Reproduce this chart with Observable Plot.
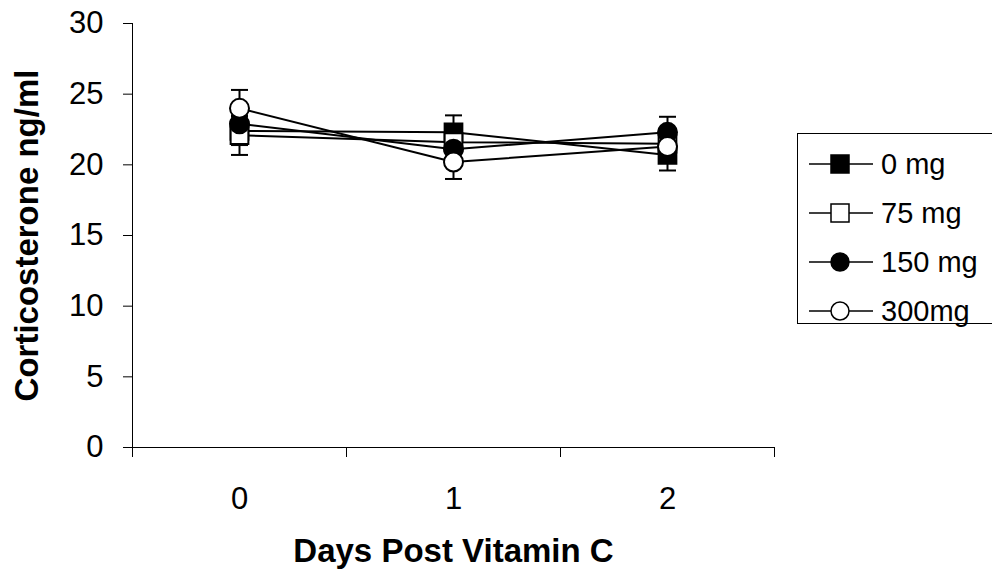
<!DOCTYPE html>
<html>
<head>
<meta charset="utf-8">
<script src="https://cdn.jsdelivr.net/npm/d3@7"></script>
<script src="https://cdn.jsdelivr.net/npm/@observablehq/plot@0.6"></script>
<style>
  html, body { margin: 0; padding: 0; background: #fff; }
  #wrap { position: relative; width: 992px; height: 571px; overflow: hidden; font-family: "Liberation Sans", Arial, sans-serif; }
  #legend { position: absolute; left: 797px; top: 133px; width: 240px; height: 191px; border: 1.5px solid #000; border-right: none; box-sizing: border-box; background: #fff; }
  .lg-item { position: absolute; left: 0; height: 40px; display: flex; align-items: center; }
  .lg-item span { font-size: 29px; color: #000; margin-left: 7px; white-space: nowrap; }
</style>
</head>
<body>
<div id="wrap"></div>
<script>
// ---- data ----
const days = [0, 1, 2];
const xTickLabels = ["0", "1", "2"];
const xBoundaries = [-0.5, 0.5, 1.5, 2.5];
const yTicks = [0, 5, 10, 15, 20, 25, 30];
const seriesNames = ["0 mg", "75 mg", "150 mg", "300mg"];
const mean0   = [22.4, 22.3, 20.7];
const mean75  = [22.1, 21.6, 21.5];
const mean150 = [22.9, 21.1, 22.3];
const mean300 = [24.0, 20.2, 21.3];
const se0   = [1.0, 1.2, 1.1];
const se75  = [1.4, 1.2, 1.1];
const se150 = [1.2, 1.2, 1.1];
const se300 = [1.3, 1.2, 1.0];
const symbols = ["square", "square", "circle", "circle"];
const fills = ["black", "white", "black", "white"];

const means = [mean0, mean75, mean150, mean300];
const ses = [se0, se75, se150, se300];
const rows = [];
seriesNames.forEach((name, si) => days.forEach((d, i) => rows.push({
  series: name, si, day: d, mean: means[si][i], se: ses[si][i]
})));

const capSymbol = {
  draw(ctx, size) {
    const r = Math.sqrt(size / Math.PI);
    ctx.moveTo(-r, 0);
    ctx.lineTo(r, 0);
  }
};

const marks = [
  Plot.ruleY([yTicks[0]], {stroke: "black", strokeWidth: 1}),
  Plot.ruleX([xBoundaries[0]], {stroke: "black", strokeWidth: 1}),
  Plot.axisY({ticks: yTicks, tickSize: 9, tickPadding: 20, label: null, fontSize: 31}),
  Plot.axisX({ticks: xBoundaries, tickSize: 10, tickFormat: () => "", label: null}),
  Plot.axisX({ticks: days, tickSize: 0, tickPadding: 39, tickFormat: d => xTickLabels[d], label: null, fontSize: 31}),
  Plot.line(rows, {x: "day", y: "mean", z: "series", stroke: "black", strokeWidth: 2}),
  Plot.ruleX(rows, {x: "day", y1: d => d.mean - d.se, y2: d => d.mean + d.se, stroke: "black", strokeWidth: 2}),
  Plot.dot(rows, {x: "day", y: d => d.mean + d.se, symbol: capSymbol, r: 8.5, stroke: "black", strokeWidth: 2, fill: "none"}),
  Plot.dot(rows, {x: "day", y: d => d.mean - d.se, symbol: capSymbol, r: 8.5, stroke: "black", strokeWidth: 2, fill: "none"})
];
seriesNames.forEach((name, si) => {
  marks.push(Plot.dot(rows.filter(r => r.si === si), {
    x: "day", y: "mean", symbol: symbols[si], r: symbols[si] === "square" ? 10 : 9.5,
    fill: fills[si], stroke: "black", strokeWidth: 2
  }));
});
marks.push(
  Plot.text(["Corticosterone ng/ml"], {frameAnchor: "left", rotate: -90, dx: -105, fontSize: 33, fontWeight: "bold", textAnchor: "middle", lineAnchor: "middle"}),
  Plot.text(["Days Post Vitamin C"], {frameAnchor: "bottom", dy: 104, fontSize: 33, fontWeight: "bold", textAnchor: "middle", lineAnchor: "middle"})
);

const chart = Plot.plot({
  width: 992,
  height: 571,
  marginLeft: 132,
  marginRight: 218,
  marginTop: 23,
  marginBottom: 124,
  x: {type: "linear", domain: [xBoundaries[0], xBoundaries[3]]},
  y: {domain: [yTicks[0], yTicks[yTicks.length - 1]]},
  style: {fontFamily: "'Liberation Sans', Arial, sans-serif", fontSize: "31px", color: "black", background: "white", overflow: "visible"},
  marks
});
const wrap = document.getElementById("wrap");
wrap.appendChild(chart);

// ---- legend (HTML) ----
const legend = d3.select(wrap).append("div").attr("id", "legend");
seriesNames.forEach((name, si) => {
  const item = legend.append("div").attr("class", "lg-item").style("top", (10 + si * 49) + "px").style("left", "10px");
  const svg = item.append("svg").attr("width", 66).attr("height", 40);
  svg.append("line").attr("x1", 1).attr("x2", 65).attr("y1", 20).attr("y2", 20).attr("stroke", "black").attr("stroke-width", 1.5);
  if (symbols[si] === "square") {
    svg.append("rect").attr("x", 32 - 9).attr("y", 20 - 9).attr("width", 18).attr("height", 18)
      .attr("fill", fills[si]).attr("stroke", "black").attr("stroke-width", 1.5);
  } else {
    svg.append("circle").attr("cx", 32).attr("cy", 20).attr("r", 9)
      .attr("fill", fills[si]).attr("stroke", "black").attr("stroke-width", 1.5);
  }
  item.append("span").text(name);
});
</script>
</body>
</html>
